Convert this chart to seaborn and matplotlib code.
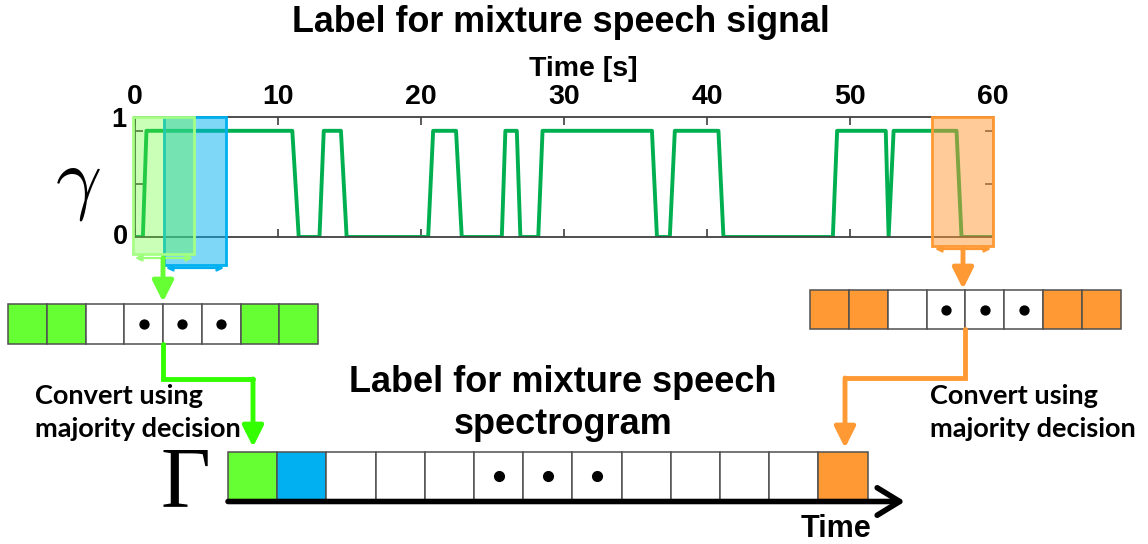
import numpy as np
import pandas as pd
import matplotlib
matplotlib.use("Agg")
import matplotlib.pyplot as plt
import seaborn as sns
from matplotlib.patches import Rectangle

sns.set_style("white")
plt.rcParams['font.family'] = ['Liberation Sans', 'DejaVu Sans']
plt.rcParams['text.color'] = 'black'
plt.rcParams['xtick.color'] = 'black'
plt.rcParams['ytick.color'] = 'black'

# ---------------- data ----------------
time_s = [0, 0.55, 0.8, 11.0, 11.45, 12.9, 13.2, 14.4, 14.8, 20.5, 20.85, 22.45, 22.85,
          25.65, 25.9, 26.7, 26.95, 28.2, 28.5, 36.15, 36.5, 37.4, 37.75, 40.8, 41.15,
          48.8, 49.1, 52.5, 52.7, 53.05, 57.45, 57.8, 59.9]
gamma = [0, 0, 1, 1, 0, 0, 1, 1, 0, 0, 1, 1, 0,
         0, 1, 1, 0, 0, 1, 1, 0, 0, 1, 1, 0,
         0, 1, 1, 0, 1, 1, 0, 0]
x_ticks = [0, 10, 20, 30, 40, 50, 60]
left_frame = ["green", "green", "white", "dot", "dot", "dot", "green", "green"]
right_frame = ["orange", "orange", "white", "dot", "dot", "dot", "orange", "orange"]
spec_label = ["green", "blue", "white", "white", "white", "dot", "dot", "dot",
              "white", "white", "white", "white", "orange"]

GREEN = "#66FF33"
BLUE = "#00B0F0"
ORANGE = "#FF9933"
LINE = "#00B050"
fill = {"green": GREEN, "blue": BLUE, "orange": ORANGE, "white": "white", "dot": "white"}
SANS = "Liberation Sans"

W, H = 1148, 544
fig = plt.figure(figsize=(W / 100, H / 100), dpi=100)

# ---------------- signal axes ----------------
ax = fig.add_axes([135 / W, 307 / H, 858 / W, 120 / H])
df = pd.DataFrame({"t": time_s, "g": gamma})
sns.lineplot(data=df, x="t", y="g", ax=ax, color=LINE, lw=2.8, sort=False, estimator=None)
ax.set_xlim(0, 60)
ax.set_ylim(0, 1.13)
ax.xaxis.tick_top()
ax.set_xticks(x_ticks)
ax.set_xticklabels([str(v) for v in x_ticks], fontsize=20.5, fontweight="bold", family=SANS)
ax.tick_params(axis="x", which="both", direction="in", length=6, width=1.2, color="#404040",
               top=True, bottom=True, labeltop=True, labelbottom=False, pad=5)
ax.set_yticks([0.5, 1.0])
ax.set_yticklabels([])
ax.tick_params(axis="y", direction="in", length=6, width=1.2, color="#404040", left=True, right=True)
ax.set_xlabel("")
ax.set_ylabel("")
for s in ax.spines.values():
    s.set_color("#404040")
    s.set_linewidth(1.3)

# ---------------- overlay (pixel coordinates) ----------------
ov = fig.add_axes([0, 0, 1, 1], zorder=5)
ov.set_xlim(0, W)
ov.set_ylim(H, 0)
ov.axis("off")
ov.patch.set_alpha(0)

# windows on the signal
ov.add_patch(Rectangle((164, 117), 62, 148, facecolor=BLUE, alpha=0.5, lw=0))
ov.add_patch(Rectangle((164, 117), 62, 148, facecolor="none", edgecolor=BLUE, lw=2))
ov.add_patch(Rectangle((133, 117), 61, 137, facecolor=GREEN, alpha=0.35, lw=0))
ov.add_patch(Rectangle((133, 117), 61, 137, facecolor="none", edgecolor="#A6FF85", lw=2))
ov.add_patch(Rectangle((932, 117), 61, 129, facecolor=ORANGE, alpha=0.5, lw=0))
ov.add_patch(Rectangle((932, 117), 61, 129, facecolor="none", edgecolor=ORANGE, lw=2))

def dbl(x0, x1, y, c):
    ov.annotate("", xy=(x1, y), xytext=(x0, y),
                arrowprops=dict(arrowstyle="<|-|>", color=c, lw=1.6, mutation_scale=9,
                                shrinkA=0, shrinkB=0))

dbl(135, 193, 258, "#99FF77")
dbl(166, 224, 268, BLUE)
dbl(935, 991, 249, ORANGE)

def arrow(x0, y0, x1, y1, c, lw=3.5):
    ov.annotate("", xy=(x1, y1), xytext=(x0, y0),
                arrowprops=dict(arrowstyle="-|>,head_length=0.9,head_width=0.45", color=c, lw=lw,
                                mutation_scale=14, shrinkA=0, shrinkB=0))

arrow(163, 258, 163, 302, GREEN)
arrow(963, 249, 963, 289, ORANGE)

# connectors
ov.plot([163, 163, 253], [344, 379, 379], color="#33FF00", lw=3.5, solid_joinstyle="miter")
arrow(253, 379, 253, 447, "#33FF00")
ov.plot([965, 965, 845], [329, 378, 378], color=ORANGE, lw=3.5, solid_joinstyle="miter")
arrow(845, 378, 845, 448, ORANGE)

def row(cells, x0, y0, w, h, r=3.2):
    for i, c in enumerate(cells):
        ov.add_patch(Rectangle((x0 + i * w, y0), w, h, facecolor=fill[c],
                               edgecolor="#505050", lw=1.1))
        if c == "dot":
            ov.plot(x0 + (i + 0.5) * w, y0 + h / 2, "o", color="black", ms=2 * r)

row(left_frame, 8, 304, 38.75, 40)
row(right_frame, 810, 290, 38.85, 39)
row(spec_label, 228, 452, 49.2, 48, r=3.5)

# time axis of spectrogram labels
ov.annotate("", xy=(905, 501.5), xytext=(228, 501.5),
            arrowprops=dict(arrowstyle="->,head_length=0.9,head_width=0.55", color="black", lw=4,
                            mutation_scale=18, shrinkA=0, shrinkB=0))

# ---------------- texts ----------------
ov.text(561, 22, "Label for mixture speech signal", ha="center", va="center",
        fontsize=25.8, fontweight="bold", family=SANS)
ov.text(583, 69, "Time [s]", ha="center", va="center", fontsize=20.5, fontweight="bold", family=SANS)
ov.text(119, 120, "1", ha="center", va="center", fontsize=19.5, fontweight="bold", family=SANS)
ov.text(120, 237, "0", ha="center", va="center", fontsize=19.5, fontweight="bold", family=SANS)
ov.text(78, 185, r"$\gamma$", ha="center", va="center", fontsize=58, math_fontfamily="cm")
ov.text(185, 485, "Γ", ha="center", va="center", fontsize=62, family="Liberation Serif")
ov.text(563, 383, "Label for mixture speech", ha="center", va="center",
        fontsize=26, fontweight="bold", family=SANS)
ov.text(563, 425, "spectrogram", ha="center", va="center", fontsize=26, fontweight="bold", family=SANS)
ov.text(836, 529, "Time", ha="center", va="center", fontsize=22, fontweight="bold", family=SANS)
for x in (35, 930):
    ov.text(x, 396, "Convert using", ha="left", va="center", fontsize=19.5,
            fontweight="bold", family="Lato")
    ov.text(x, 429, "majority decision", ha="left", va="center", fontsize=19.5,
            fontweight="bold", family="Lato")

fig.savefig("out.png", dpi=100)
